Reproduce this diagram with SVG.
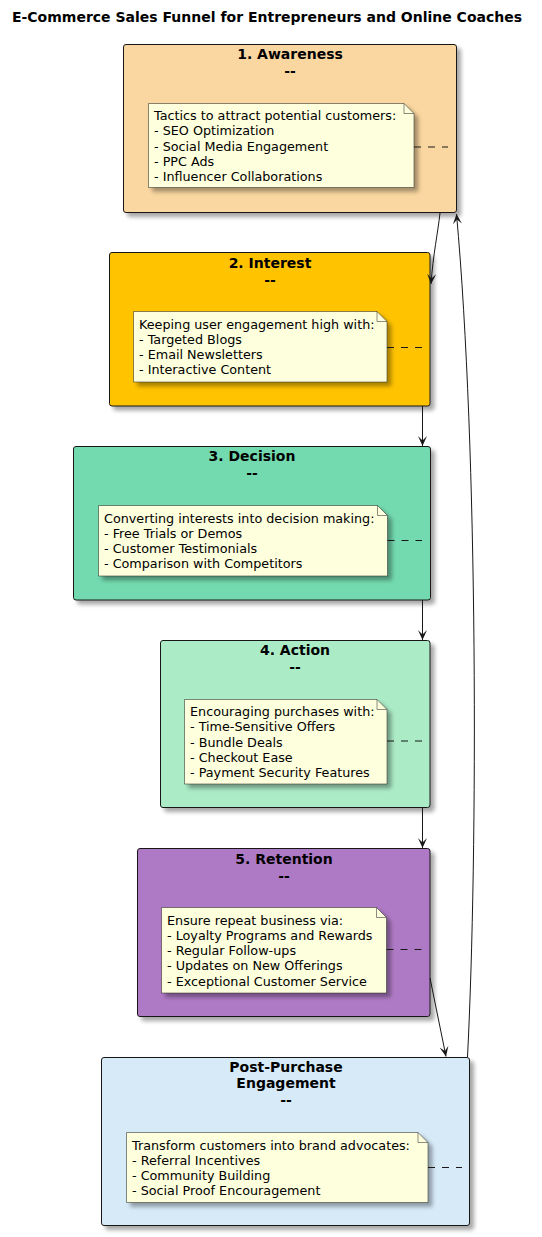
<svg xmlns="http://www.w3.org/2000/svg" width="542" height="1237" viewBox="0 0 542 1237">
<style>
text{font-family:"DejaVu Sans","Liberation Sans",sans-serif;fill:#000}
.title{font-size:14px;font-weight:bold}
.h{font-size:14px;font-weight:bold;text-anchor:middle}
.n{font-size:12.75px}
.box{stroke:#181818;stroke-width:1}
.note{fill:#FEFFDD;stroke:#181818;stroke-width:0.5}
.fold{fill:none;stroke:#181818;stroke-width:0.5}
.dash{stroke:#181818;stroke-width:1;stroke-dasharray:7,7;fill:none}
.edge{stroke:#181818;stroke-width:1;fill:none;marker-end:url(#arr)}
</style>
<defs>
<filter id="sh" x="-10%" y="-10%" width="130%" height="130%">
<feGaussianBlur in="SourceAlpha" stdDeviation="2"/>
<feOffset dx="4" dy="4"/>
<feComponentTransfer><feFuncA type="linear" slope="0.35"/></feComponentTransfer>
<feMerge><feMergeNode/><feMergeNode in="SourceGraphic"/></feMerge>
</filter>
<marker id="arr" viewBox="-10 -5 11 10" refX="0" refY="0" markerWidth="11" markerHeight="10" markerUnits="userSpaceOnUse" orient="auto">
<path d="M0,0 L-10,-4.5 L-5.5,0 L-10,4.5 Z" fill="#181818"/>
</marker>
</defs>
<rect width="542" height="1237" fill="#FFFFFF"/>
<text class="title" x="267" y="22" text-anchor="middle">E-Commerce Sales Funnel for Entrepreneurs and Online Coaches</text>

<g id="awareness">
<rect class="box" x="123.5" y="44.5" width="333" height="168" rx="2.5" fill="#FAD7A0" filter="url(#sh)"/>
<text class="h" x="290" y="59">1. Awareness</text>
<text class="h" x="290" y="76">--</text>
<path class="note" d="M148.5,103.5 L404,103.5 L414,113.5 L414,187.5 L148.5,187.5 Z" filter="url(#sh)"/>
<path class="fold" d="M404,103.5 L404,113.5 L414,113.5"/>
<text class="n" x="154" y="120">Tactics to attract potential customers:</text>
<text class="n" x="154" y="135">- SEO Optimization</text>
<text class="n" x="154" y="150.5">- Social Media Engagement</text>
<text class="n" x="154" y="165.5">- PPC Ads</text>
<text class="n" x="154" y="181">- Influencer Collaborations</text>
<line class="dash" x1="414" y1="147" x2="448" y2="147"/>
</g>

<g id="interest">
<rect class="box" x="109.5" y="252.5" width="320.5" height="153.5" rx="2.5" fill="#FFC300" filter="url(#sh)"/>
<text class="h" x="270" y="268">2. Interest</text>
<text class="h" x="270" y="285">--</text>
<path class="note" d="M133.5,311.5 L377,311.5 L387,321.5 L387,382 L133.5,382 Z" filter="url(#sh)"/>
<path class="fold" d="M377,311.5 L377,321.5 L387,321.5"/>
<text class="n" x="139" y="328.5">Keeping user engagement high with:</text>
<text class="n" x="139" y="343.5">- Targeted Blogs</text>
<text class="n" x="139" y="358.5">- Email Newsletters</text>
<text class="n" x="139" y="373.5">- Interactive Content</text>
<line class="dash" x1="387" y1="347.5" x2="422" y2="347.5"/>
</g>

<g id="decision">
<rect class="box" x="73.5" y="446.5" width="357" height="153.5" rx="2.5" fill="#73D9AE" filter="url(#sh)"/>
<text class="h" x="252" y="461">3. Decision</text>
<text class="h" x="252" y="478">--</text>
<path class="note" d="M98.5,505.5 L377.5,505.5 L387.5,515.5 L387.5,576 L98.5,576 Z" filter="url(#sh)"/>
<path class="fold" d="M377.5,505.5 L377.5,515.5 L387.5,515.5"/>
<text class="n" x="104" y="522.5">Converting interests into decision making:</text>
<text class="n" x="104" y="537.5">- Free Trials or Demos</text>
<text class="n" x="104" y="552.5">- Customer Testimonials</text>
<text class="n" x="104" y="567.5">- Comparison with Competitors</text>
<line class="dash" x1="387.5" y1="540.5" x2="422" y2="540.5"/>
</g>

<g id="action">
<rect class="box" x="160.5" y="640.5" width="269.5" height="167" rx="2.5" fill="#ABEBC6" filter="url(#sh)"/>
<text class="h" x="295" y="655">4. Action</text>
<text class="h" x="295" y="672">--</text>
<path class="note" d="M184.5,699.5 L377,699.5 L387,709.5 L387,784 L184.5,784 Z" filter="url(#sh)"/>
<path class="fold" d="M377,699.5 L377,709.5 L387,709.5"/>
<text class="n" x="190" y="716">Encouraging purchases with:</text>
<text class="n" x="190" y="731">- Time-Sensitive Offers</text>
<text class="n" x="190" y="746.5">- Bundle Deals</text>
<text class="n" x="190" y="761.5">- Checkout Ease</text>
<text class="n" x="190" y="777">- Payment Security Features</text>
<line class="dash" x1="387" y1="741" x2="422" y2="741"/>
</g>

<g id="retention">
<rect class="box" x="137.5" y="848.5" width="292.5" height="168" rx="2.5" fill="#AF7AC5" filter="url(#sh)"/>
<text class="h" x="284" y="864">5. Retention</text>
<text class="h" x="284" y="881">--</text>
<path class="note" d="M161.5,907.5 L376.5,907.5 L386.5,917.5 L386.5,993 L161.5,993 Z" filter="url(#sh)"/>
<path class="fold" d="M376.5,907.5 L376.5,917.5 L386.5,917.5"/>
<text class="n" x="167" y="924.5">Ensure repeat business via:</text>
<text class="n" x="167" y="939.5">- Loyalty Programs and Rewards</text>
<text class="n" x="167" y="955">- Regular Follow-ups</text>
<text class="n" x="167" y="970">- Updates on New Offerings</text>
<text class="n" x="167" y="985.5">- Exceptional Customer Service</text>
<line class="dash" x1="386.5" y1="949.5" x2="422" y2="949.5"/>
</g>

<g id="postpurchase">
<rect class="box" x="101.5" y="1057.5" width="368" height="168" rx="2.5" fill="#D6EAF8" filter="url(#sh)"/>
<text class="h" x="286" y="1072">Post-Purchase</text>
<text class="h" x="286" y="1088">Engagement</text>
<text class="h" x="286" y="1105">--</text>
<path class="note" d="M126.5,1132.5 L418,1132.5 L428,1142.5 L428,1202.5 L126.5,1202.5 Z" filter="url(#sh)"/>
<path class="fold" d="M418,1132.5 L418,1142.5 L428,1142.5"/>
<text class="n" x="132" y="1149.5">Transform customers into brand advocates:</text>
<text class="n" x="132" y="1164.5">- Referral Incentives</text>
<text class="n" x="132" y="1179.5">- Community Building</text>
<text class="n" x="132" y="1194.5">- Social Proof Encouragement</text>
<line class="dash" x1="428" y1="1167.5" x2="462" y2="1167.5"/>
</g>

<g id="connectors">
<path class="edge" d="M440,213 C438,232 433,255 431,284"/>
<path class="edge" d="M422.5,406 L422.5,446"/>
<path class="edge" d="M422.5,600 L422.5,640"/>
<path class="edge" d="M422.5,807.5 L422.5,848"/>
<path class="edge" d="M430,978 L446,1056.5"/>
<path class="edge" d="M467.5,1057 C478,850 478,450 456.5,214"/>
</g>
</svg>
